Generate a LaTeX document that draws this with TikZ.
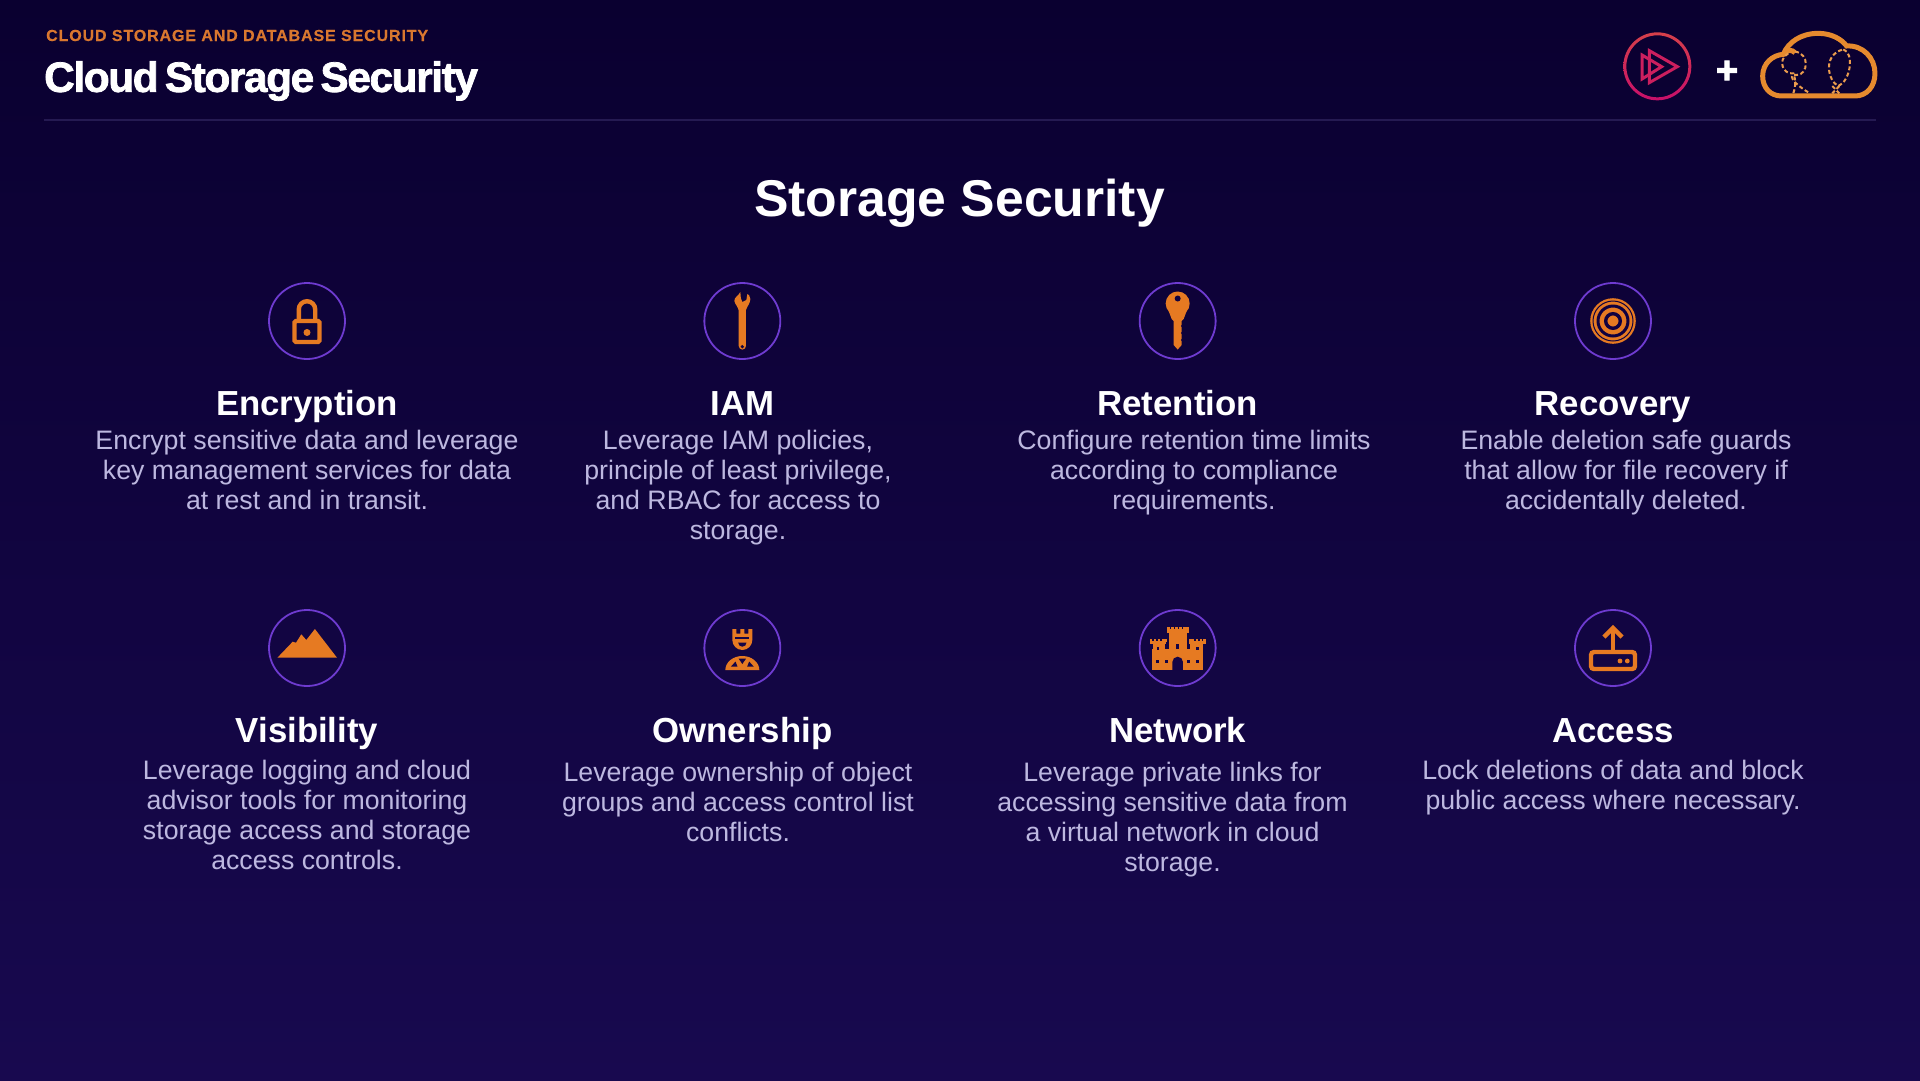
\documentclass[tikz,border=0pt]{standalone}
\usepackage{fontspec}
\setmainfont{Liberation Sans}
\newfontfamily\titlefont[RawFeature={embolden=1.8},LetterSpace=-3.2,WordSpace=0.6]{Liberation Sans Bold}
\newfontfamily\kickerfont[LetterSpace=5.5,RawFeature={embolden=0.5}]{Liberation Sans Bold}
\newfontfamily\headfont{Liberation Sans Bold}
\newfontfamily\plusfont[RawFeature={embolden=2.5}]{Liberation Sans Bold}
\definecolor{orangeicon}{HTML}{E67A22}
\definecolor{ringpurple}{HTML}{6E3BD0}
\definecolor{bodygrey}{HTML}{BDB8E0}
\definecolor{kicker}{HTML}{D9772F}
\definecolor{cloudorange}{HTML}{E68A2E}
\definecolor{rulepurple}{HTML}{251A52}
\definecolor{bgtop}{HTML}{0A0030}
\definecolor{bgmid}{HTML}{130444}
\definecolor{bgbottom}{HTML}{18094F}
\definecolor{bgrowa}{HTML}{100140}
\definecolor{bgrowb}{HTML}{150546}
\definecolor{playtop}{HTML}{D5404A}
\definecolor{playbottom}{HTML}{C80F6A}
\definecolor{playmark}{HTML}{CC1F5E}
\begin{document}
\begin{tikzpicture}[x=1pt,y=1pt,node distance=435.33pt]
  \tikzstyle{badge}=[circle,draw=ringpurple,line width=1.8pt,minimum size=76pt,inner sep=0pt]
  \tikzstyle{head}=[text=white,font=\headfont\fontsize{34.8}{36}\selectfont,inner sep=0pt,text height=25pt,text depth=8pt]
  \tikzstyle{body}=[text=bodygrey,anchor=north,align=center,inner sep=0pt,font=\fontsize{26.7}{30}\selectfont]
  \tikzstyle{solid icon}=[fill=orangeicon,draw=none]
  \tikzstyle{line icon}=[draw=orangeicon,line width=4.4pt,fill=none]
  \tikzstyle{hole}=[fill=bgrowa,draw=none]
  \tikzstyle{holeb}=[fill=bgrowb,draw=none]
  \tikzstyle{balloon}=[cloudorange!85!white,line width=2pt,dash pattern=on 4pt off 2.5pt]

  \useasboundingbox (0,0) rectangle (1920,-1080);
  \shade[top color=bgtop,middle color=bgmid,bottom color=bgbottom] (0,0) rectangle (1920,-1080);

  % header
  \node[anchor=west,inner sep=0pt,text=kicker,font=\kickerfont\fontsize{16}{18}\selectfont] (kick) at (46,-35.5) {CLOUD STORAGE AND DATABASE SECURITY};
  \node[anchor=west,inner sep=0pt,text=white,font=\titlefont\fontsize{42.3}{48}\selectfont] (title) at (44,-81) {Cloud Storage Security};
  \coordinate (ruleL) at (44,-120);
  \coordinate (ruleR) at (1876,-120);
  \draw[rulepurple,line width=2pt] (ruleL) -- (ruleR);
  \node[text=white,font=\headfont\fontsize{51.7}{56}\selectfont,inner sep=0pt] (main) at (959.5,-203) {Storage Security};

  % logos
  \begin{scope}[shift={(1580,-10)},x=.3333pt,y=-.3333pt]
    \shade[top color=playtop,bottom color=playbottom,even odd rule] (232,169) circle (102) circle (93);
    \draw[playmark,line width=3pt,line join=miter] (208,122) -- (292,170) -- (208,218) -- cycle;
    \draw[playmark,line width=3pt,line join=miter] (186,135) -- (245,170) -- (186,207) -- cycle;
    \draw[cloudorange,line width=5pt]
      (605,258) .. controls (570,258) and (548,232) .. (548,198) .. controls (548,160) and (578,135) .. (610,133)
      .. controls (625,95) and (665,70) .. (715,70) .. controls (755,70) and (785,88) .. (800,108)
      .. controls (850,105) and (885,145) .. (885,190) .. controls (885,230) and (860,258) .. (825,258) -- cycle;
    \draw[cloudorange,line width=5pt] (610,133) .. controls (620,118) and (635,118) .. (645,128);
    \draw[balloon] (645,125) .. controls (690,130) and (685,195) .. (650,195) .. controls (625,190) and (630,215) .. (690,250);
    \draw[balloon] (625,130) .. controls (590,150) and (610,195) .. (640,190) .. controls (650,215) and (645,235) .. (640,250);
    \draw[balloon] (790,118) .. controls (825,130) and (810,215) .. (775,228) .. controls (745,215) and (725,135) .. (790,118);
    \draw[balloon] (757,228) -- (778,250) (778,228) -- (757,250);
  \end{scope}
  \node[text=white,inner sep=0pt,font=\plusfont\fontsize{38}{40}\selectfont] (plus) at (1727,-72) {+};

  % badges
  \node[badge] (enc) at (307,-321) {};
  \node[badge] (iam) [right of=enc] {};
  \node[badge] (ret) [right of=iam] {};
  \node[badge] (rec) [right of=ret] {};
  \node[badge] (vis) at (307,-648) {};
  \node[badge] (own) [right of=vis] {};
  \node[badge] (net) [right of=own] {};
  \node[badge] (acc) [right of=net] {};

  % headings
  \node[head] (encT) at (307,-406.5) {Encryption};
  \node[head] (iamT) [right of=encT] {IAM};
  \node[head] (retT) [right of=iamT] {Retention};
  \node[head] (recT) [right of=retT] {Recovery};
  \node[head] (visT) at (307,-733.5) {Visibility};
  \node[head] (ownT) [right of=visT] {Ownership};
  \node[head] (netT) [right of=ownT] {Network};
  \node[head] (accT) [right of=netT] {Access};

  % text
  \node[body] (encB) at (307,-430) {Encrypt sensitive data and leverage\\key management services for data\\at rest and in transit.};
  \node[body] (iamB) at (738,-430) {Leverage IAM policies,\\principle of least privilege,\\and RBAC for access to\\storage.};
  \node[body] (retB) at (1194,-430) {Configure retention time limits\\according to compliance\\requirements.};
  \node[body] (recB) at (1626,-430) {Enable deletion safe guards\\that allow for file recovery if\\accidentally deleted.};
  \node[body] (visB) at (307,-760) {Leverage logging and cloud\\advisor tools for monitoring\\storage access and storage\\access controls.};
  \node[body] (ownB) at (738,-762) {Leverage ownership of object\\groups and access control list\\conflicts.};
  \node[body] (netB) at (1172.5,-762) {Leverage private links for\\accessing sensitive data from\\a virtual network in cloud\\storage.};
  \node[body] (accB) at (1613,-760) {Lock deletions of data and block\\public access where necessary.};

  % icons
  \begin{scope}[shift={(enc)}]
    \draw[line icon] (-8.2,0) -- (-8.2,11.6) arc (180:0:8.2) -- (8.2,0);
    \draw[line icon,rounded corners=1.5pt] (-12.5,0) rectangle (12.5,-21);
    \fill[solid icon] (0,-11.5) circle (3.5);
  \end{scope}
  \begin{scope}[shift={(iam)}]
    \fill[solid icon] (-3.6,13) -- (3.6,13) -- (3.6,-25) arc (0:-180:3.6) -- cycle;
    \fill[solid icon] (-2,29) .. controls (-4,25) and (-8,24) .. (-8,20) .. controls (-7,16) and (-4,14) .. (-3.6,11) -- (3.6,11) .. controls (5,15) and (8,18) .. (8,22) .. controls (8,25) and (6,27) .. (5,27) -- (4,21) -- (0,19) -- (-1.5,23) -- cycle;
    \fill[hole] (0,-25.7) circle (1.8);
  \end{scope}
  \begin{scope}[shift={(ret)}]
    \fill[solid icon] (0,17.5) circle (12);
    \fill[solid icon] (-9,10) -- (9,10) -- (6,2) -- (4,0) -- (4,-24) -- (0,-28.5) -- (-4,-24) -- (-4,0) -- (-6,2) -- cycle;
    \fill[hole] (0,22.5) circle (3);
    \foreach \sy in {-5,-12,-19} \fill[hole] (4.3,\sy) circle (1.2);
  \end{scope}
  \begin{scope}[shift={(rec)}]
    \fill[solid icon] (0,0) circle (22.8);
    \draw[bgrowa,line width=1pt] (0,0) circle (20);
    \draw[bgrowa,line width=3pt] (0,0) circle (15);
    \draw[bgrowa,line width=3.4pt] (0,0) circle (7.3);
  \end{scope}
  \begin{scope}[shift={(vis)}]
    \fill[solid icon] (-29.6,-9.7) -- (-14.3,6.3) -- (-11,5.3) -- (-5.7,13.7) -- (-0.7,8) -- (7.9,19) -- (30,-9.7) -- cycle;
  \end{scope}
  \begin{scope}[shift={(own)}]
    \fill[solid icon] (-10,19) -- (-6,19) -- (-6,14.5) -- (-2,14.5) -- (-2,19) -- (2,19) -- (2,14.5) -- (6,14.5) -- (6,19) -- (10,19) -- (10,8) arc (0:-180:10) -- cycle;
    \fill[holeb] (-7,11.5) rectangle (7,9.5);
    \fill[holeb] (-4.2,5.5) -- (4.2,5.5) arc (0:-180:4.2) -- cycle;
    \fill[solid icon] (-17,-22) arc (180:0:17 and 14) -- cycle;
    \fill[holeb] (-11.5,-18.7) -- (-4.8,-18.7) -- (-6.8,-13.5) -- cycle;
    \fill[holeb] (11.5,-18.7) -- (4.8,-18.7) -- (6.8,-13.5) -- cycle;
    \fill[holeb] (-3.8,-10.5) -- (3.8,-10.5) -- (0,-16) -- cycle;
  \end{scope}
  \begin{scope}[shift={(net)}]
    \fill[solid icon] (-25.7,-22) rectangle (25.7,-1);
    \fill[solid icon] (-9,-1) rectangle (9,17);
    \fill[solid icon] (-11,15) rectangle (11,19);
    \fill[solid icon] (-25,-1) rectangle (-12.5,5);
    \fill[solid icon] (12.5,-1) rectangle (25,5);
    \fill[solid icon] (-28,4) rectangle (-11.5,7);
    \fill[solid icon] (11.5,4) rectangle (28,7);
    \foreach \cx in {-11,-7,-3,1,5,8} \fill[solid icon] (\cx,18) rectangle ++(3,2.7);
    \foreach \cx in {-28,-24,-20,-16,-13.5} \fill[solid icon] (\cx,6) rectangle ++(2.4,2.7);
    \foreach \cx in {11.5,14,18,22,25.6} \fill[solid icon] (\cx,6) rectangle ++(2.4,2.7);
    \fill[holeb] (-5.3,-22) -- (-5.3,-14) arc (180:0:5.3) -- (5.3,-22) -- cycle;
    \fill[holeb] (-1.8,-1.2) rectangle (1.8,3.8);
    \foreach \cx in {-20.4,-11.4,10.7,19.6} \fill[holeb] (\cx-1.3,-15) rectangle ++(2.6,2.8);
    \foreach \cx in {-19.6,19.6} \fill[holeb] (\cx-1.3,-1.7) rectangle ++(2.6,2.8);
  \end{scope}
  \begin{scope}[shift={(acc)}]
    \draw[line icon,rounded corners=3pt] (-22,-4) rectangle (22,-21);
    \draw[line icon] (0,-2) -- (0,20);
    \draw[line icon] (-9,11) -- (0,20) -- (9,11);
    \fill[solid icon] (7,-13) circle (2.4) (14.3,-13) circle (2.4);
  \end{scope}
\end{tikzpicture}
\end{document}
